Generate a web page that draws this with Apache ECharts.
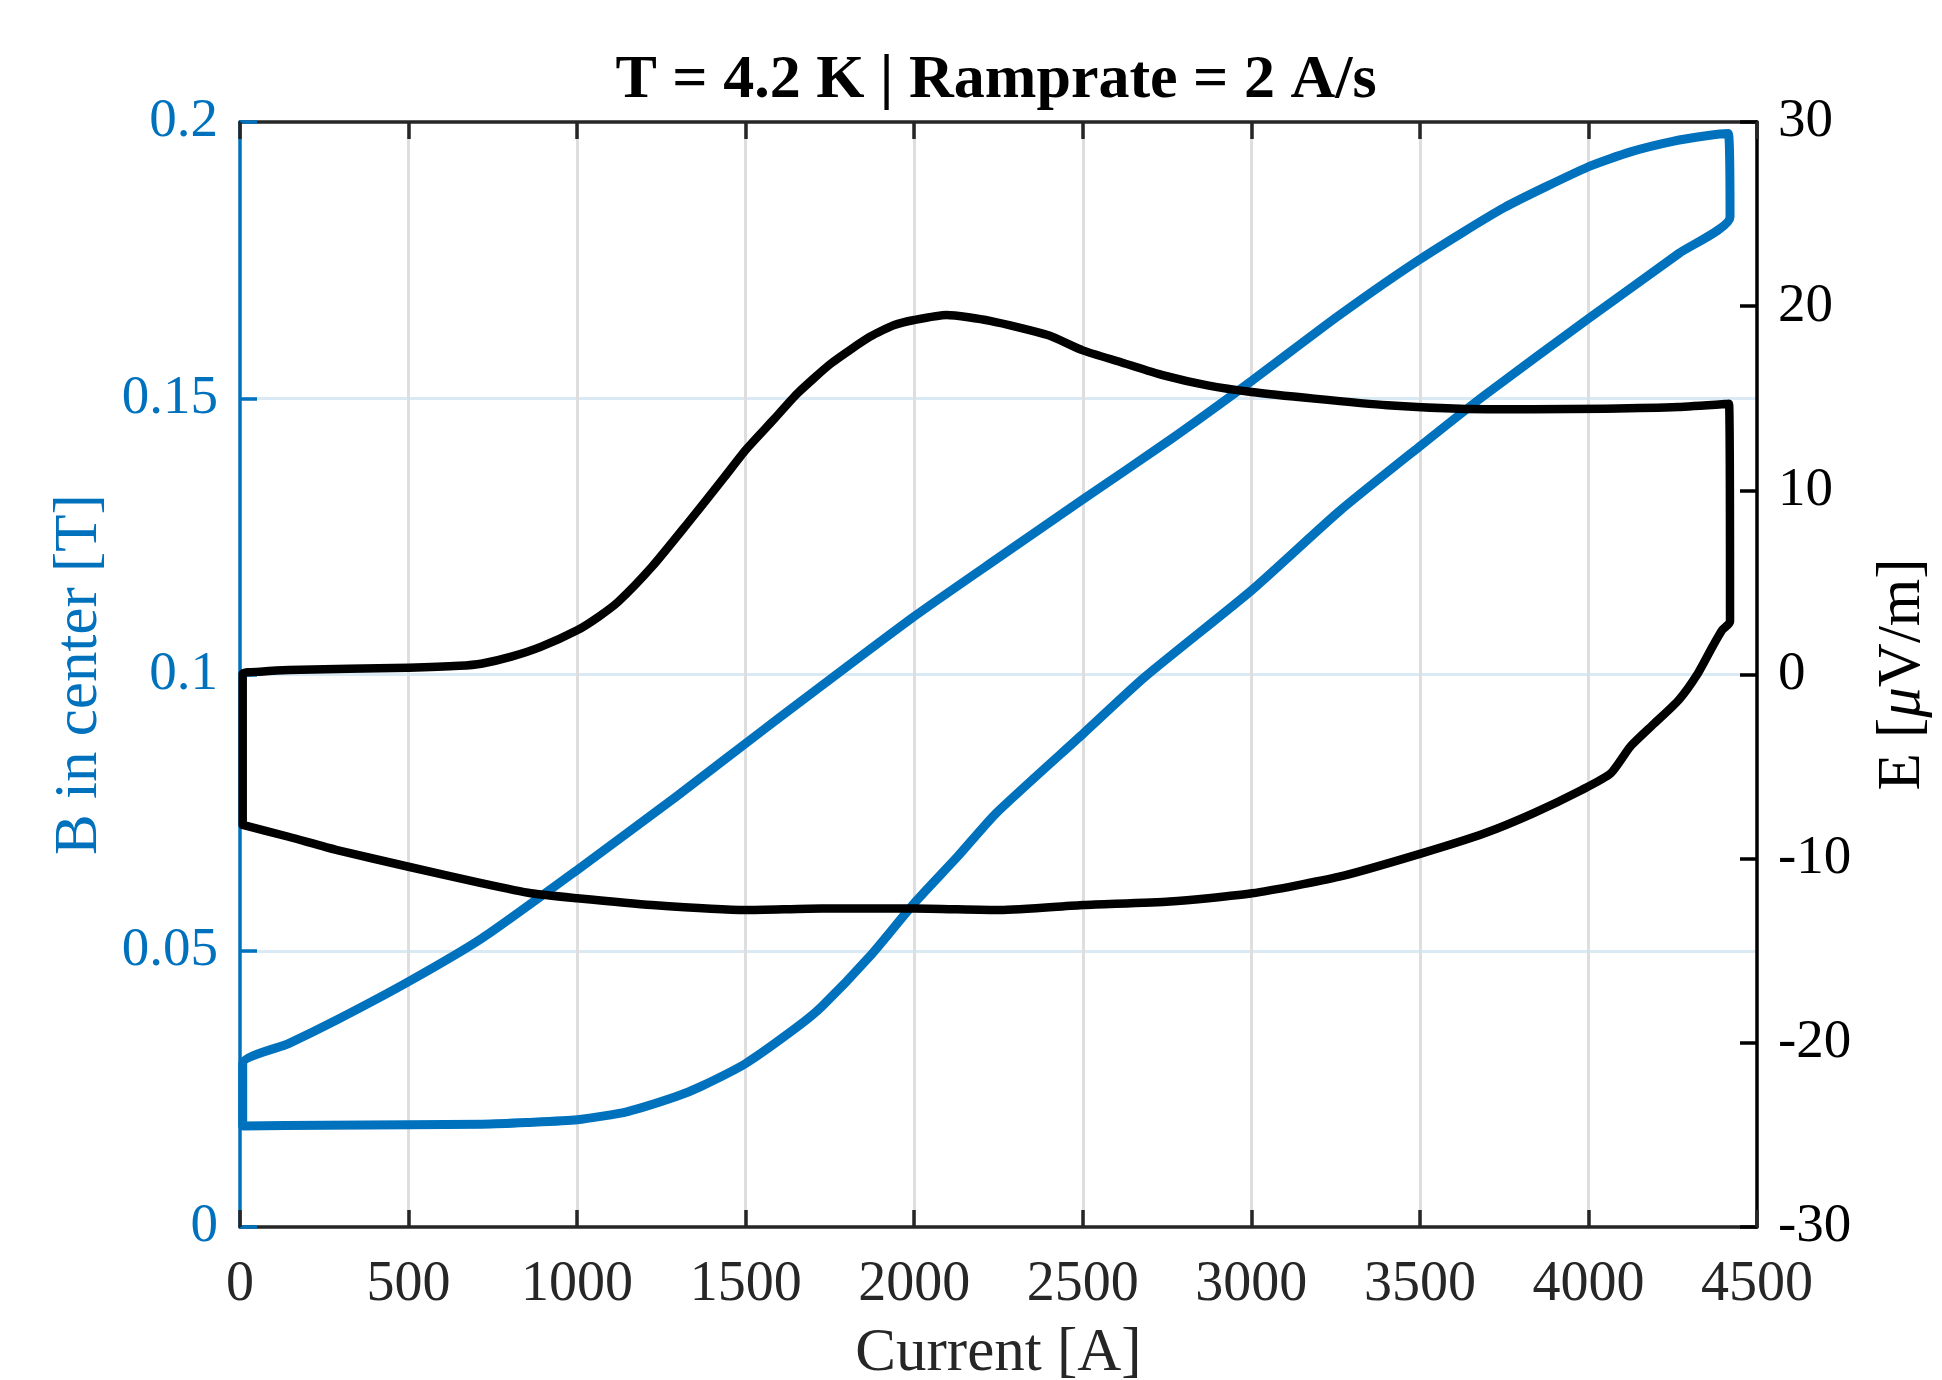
<!DOCTYPE html>
<html>
<head>
<meta charset="utf-8">
<script src="https://cdn.jsdelivr.net/npm/echarts@6/dist/echarts.min.js"></script>
<style>
  html, body { margin: 0; padding: 0; background: #fff; }
  #chart { width: 1942px; height: 1380px; }
</style>
</head>
<body>
<div id="chart"></div>
<script>
// B in center (left axis) — hysteresis loop, current [A] vs field [T]
const bCurrent = [
  8, 250, 500, 719, 850, 1000, 1150, 1294, 1366, 1500, 1655, 1726, 1867, 2000, 2128, 2243,
  2503, 2683, 3002, 3260, 3504, 3691, 4000, 4268, 4420,
  4415, 4350, 4250, 4125, 4000, 3750, 3504, 3260, 3002, 2757, 2503, 2254, 2000, 1553,
  1294, 1000, 719, 500, 288, 144, 8, 8
]
const bField = [
  0.0183, 0.0184, 0.0185, 0.0186, 0.0189, 0.0194, 0.0209, 0.0236, 0.0254, 0.0296, 0.0363, 0.0399,
  0.0489, 0.0586, 0.0670, 0.0749, 0.0894, 0.0995, 0.1153, 0.1295, 0.1415, 0.1505, 0.1644, 0.1762,
  0.1828,
  0.1979, 0.1975, 0.1965, 0.1946, 0.1919, 0.1845, 0.1753, 0.1650, 0.1532, 0.1424, 0.1318, 0.1213,
  0.1105, 0.0900, 0.0779, 0.0646, 0.0523, 0.0444, 0.0375, 0.0332, 0.0296, 0.0183
]

// E (right axis) — current [A] vs electric field [uV/m]
const eCurrent = [
  8, 8, 60, 144, 500, 650, 719, 805, 892, 1000, 1064, 1122, 1222, 1323, 1438, 1500, 1582, 1654,
  1754, 1869, 1941, 2000, 2096, 2225, 2398, 2500, 2611, 2740, 2870, 3000, 3187, 3403, 3619, 3834,
  4050, 4266, 4417,
  4420, 4397, 4368, 4325, 4268, 4196, 4124, 4066, 3980, 3836, 3692, 3505, 3261, 3002, 2758, 2503,
  2254, 2000, 1726, 1500, 1222, 1000, 863, 719, 500, 288, 144, 8
]
const eField = [
  -8.17, 0.05, 0.15, 0.24, 0.37, 0.47, 0.6, 0.97, 1.5, 2.4, 3.14, 3.95, 5.85, 8.1, 10.74, 12.19,
  13.82, 15.27, 16.9, 18.34, 18.98, 19.25, 19.52, 19.2, 18.42, 17.6, 16.97, 16.24, 15.7, 15.34,
  14.98, 14.62, 14.43, 14.4, 14.43, 14.52, 14.7,
  2.87, 2.42, 1.51, 0.07, -1.38, -2.65, -3.92, -5.37, -6.27, -7.54, -8.62, -9.71, -10.98, -11.88,
  -12.33, -12.52, -12.79, -12.7, -12.7, -12.79, -12.52, -12.15, -11.88, -11.34, -10.44, -9.53,
  -8.81, -8.17
]

const xTicks = { min: 0, max: 4500, interval: 500 }
const bTicks = { min: 0, max: 0.2, interval: 0.05 }
const eTicks = { min: -30, max: 30, interval: 10 }

const FONT = 'Liberation Serif'
const BLUE = '#0072BD'
const DARK = '#262626'

const chart = echarts.init(document.getElementById('chart'))

const option = {
  animation: false,
  backgroundColor: '#fff',
  title: {
    text: 'T = 4.2 K | Ramprate = 2 A/s',
    left: 991,
    top: 45,
    textAlign: 'center',
    textStyle: { fontFamily: FONT, fontSize: 62, fontWeight: 'bold', color: '#000' }
  },
  grid: { left: 240, right: 185, top: 122, bottom: 153, outerBoundsMode: 'none', containLabel: false },
  xAxis: [
    {
      type: 'value',
      ...xTicks,
      position: 'bottom',
      name: 'Current [A]',
      nameLocation: 'middle',
      nameGap: 96,
      nameTextStyle: { fontFamily: FONT, fontSize: 61, color: DARK },
      axisLine: { show: true, onZero: false, lineStyle: { color: DARK, width: 3.5 } },
      axisTick: { show: true, inside: true, length: 17, lineStyle: { color: DARK, width: 3.5 } },
      axisLabel: { fontFamily: FONT, fontSize: 56, color: DARK, margin: 30, formatter: (v) => String(v) },
      splitLine: { show: true, showMinLine: false, showMaxLine: false, lineStyle: { color: '#dedede', width: 3 } }
    },
    {
      type: 'value',
      ...xTicks,
      position: 'top',
      axisLine: { show: true, onZero: false, lineStyle: { color: DARK, width: 3.5 } },
      axisTick: { show: true, inside: true, length: 17, lineStyle: { color: DARK, width: 3.5 } },
      axisLabel: { show: false },
      splitLine: { show: false }
    }
  ],
  yAxis: [
    {
      type: 'value',
      ...bTicks,
      position: 'left',
      name: 'B in center [T]',
      nameLocation: 'middle',
      nameRotate: 90,
      nameGap: 130,
      nameTextStyle: { fontFamily: FONT, fontSize: 61, color: BLUE },
      axisLine: { show: true, onZero: false, lineStyle: { color: BLUE, width: 3.5 } },
      axisTick: { show: true, inside: true, length: 17, lineStyle: { color: BLUE, width: 3.5 } },
      axisLabel: { fontFamily: FONT, fontSize: 55, color: BLUE, margin: 22 },
      splitLine: { show: true, showMinLine: false, showMaxLine: false, lineStyle: { color: '#d9eaf5', width: 3 } }
    },
    {
      type: 'value',
      ...eTicks,
      position: 'right',
      name: '{n|E [}{i|μ}{n|V/m]}',
      nameLocation: 'middle',
      nameRotate: 90,
      nameGap: 115,
      nameTextStyle: {
        fontFamily: FONT, fontSize: 61, color: '#000',
        rich: {
          n: { fontFamily: FONT, fontSize: 61, color: '#000' },
          i: { fontFamily: FONT, fontSize: 61, color: '#000', fontStyle: 'italic' }
        }
      },
      axisLine: { show: true, onZero: false, lineStyle: { color: '#000', width: 3.5 } },
      axisTick: { show: true, inside: true, length: 17, lineStyle: { color: '#000', width: 3.5 } },
      axisLabel: { fontFamily: FONT, fontSize: 55, color: '#000', margin: 21 },
      splitLine: { show: false }
    }
  ],
  series: [
    {
      name: 'B in center',
      type: 'line',
      xAxisIndex: 0,
      yAxisIndex: 0,
      data: bCurrent.map((x, i) => [x, bField[i]]),
      showSymbol: false,
      smooth: 0.2,
      clip: false,
      z: 2,
      lineStyle: { color: BLUE, width: 9, join: 'round', cap: 'round' },
      itemStyle: { color: BLUE }
    },
    {
      name: 'E',
      type: 'line',
      xAxisIndex: 0,
      yAxisIndex: 1,
      data: eCurrent.map((x, i) => [x, eField[i]]),
      showSymbol: false,
      smooth: 0.2,
      clip: false,
      z: 3,
      lineStyle: { color: '#000', width: 8.5, join: 'round', cap: 'round' },
      itemStyle: { color: '#000' }
    }
  ]
}

chart.setOption(option)
</script>
</body>
</html>
